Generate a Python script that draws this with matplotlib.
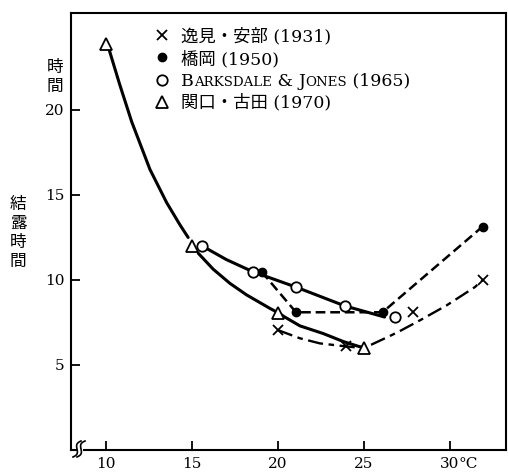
import numpy as np
import matplotlib.pyplot as plt
from matplotlib.patches import Rectangle

plt.rcParams['font.family'] = ['DejaVu Serif', 'Noto Sans CJK JP']
plt.rcParams['lines.scale_dashes'] = False

# 関口・古田 (1970)  triangles and the hand drawn curve through them
tri_x = [10, 15, 20, 25]
tri_y = [23.9, 12.0, 8.08, 5.98]
tri_top_x = [10.05, 10.2, 10.8, 11.5, 12.56, 13.53, 14.3, 14.78]
tri_top_y = [23.9, 23.5, 21.5, 19.3, 16.5, 14.55, 13.25, 12.5]
tri_low_x = [15.37, 16.24, 17.21, 18.18, 18.95, 19.53, 20.0, 20.4, 21.28, 22.63, 23.8, 24.67, 25.0]
tri_low_y = [11.57, 10.63, 9.8, 9.12, 8.67, 8.33, 8.08, 7.82, 7.3, 6.85, 6.38, 6.1, 6.02]

# 逸見・安部 (1931)
cross_x = [20.0, 23.93, 27.87, 31.9]
cross_y = [7.05, 6.1, 8.14, 10.0]
cross_curve_x = [20.0, 21.28, 22.44, 23.9, 24.6, 25.0, 25.44, 26.5, 27.1, 28.3, 29.8, 31.45, 31.9]
cross_curve_y = [7.05, 6.57, 6.27, 6.1, 6.03, 6.05, 6.2, 6.7, 7.0, 7.65, 8.5, 9.58, 10.0]

# 橋岡 (1950)
dot_x = [19.05, 21.05, 26.08, 31.9]
dot_y = [10.49, 8.1, 8.1, 13.14]

# Barksdale & Jones (1965)
circ_x = [15.56, 18.53, 21.08, 23.9, 26.8]
circ_y = [12.02, 10.49, 9.57, 8.47, 7.8]
circ_line_x = [15.56, 17.0, 18.53, 21.08, 23.9, 26.2]
circ_line_y = [12.02, 11.2, 10.49, 9.57, 8.47, 7.82]

xticks = [10, 15, 20, 25, 30]
yticks = [5, 10, 15, 20]

fig = plt.figure(figsize=(5.08, 4.73), dpi=100)
ax = fig.add_axes([71 / 508, 23 / 473, 435 / 508, 437 / 473])

k = 'black'
tri_style = dict(marker='^', ms=8.5, mfc='white', mec=k, mew=1.3, ls='none', zorder=6)
circ_style = dict(marker='o', ms=7.5, mfc='white', mec=k, mew=1.3, ls='none', zorder=6)
dot_style = dict(marker='o', ms=6, mfc=k, mec=k, ls='none', zorder=6)
cross_style = dict(marker='x', ms=7, mec=k, mew=1.3, ls='none', zorder=6)

ax.plot(tri_top_x, tri_top_y, color=k, lw=2.2, solid_capstyle='round')
ax.plot(tri_low_x, tri_low_y, color=k, lw=2.2, solid_capstyle='round')
ax.plot(cross_curve_x, cross_curve_y, color=k, lw=1.7, dashes=(11, 4, 4, 4))
ax.plot(dot_x, dot_y, color=k, lw=1.8, dashes=(7, 3.5))
ax.plot(circ_line_x, circ_line_y, color=k, lw=2.2, solid_capstyle='round')

ax.plot(tri_x, tri_y, **tri_style)
ax.plot(circ_x, circ_y, **circ_style)
ax.plot(dot_x, dot_y, **dot_style)
ax.plot(cross_x, cross_y, **cross_style)

ax.set_xlim(7.97, 33.26)
ax.set_ylim(0, 25.7)
ax.set_xticks(xticks)
ax.set_xticklabels([str(t) for t in xticks])
ax.set_yticks(yticks)
ax.set_yticklabels([str(t) for t in yticks])
ax.tick_params(direction='in', length=6.5, width=1.3, labelsize=11, colors=k)
ax.tick_params(axis='x', pad=5)
ax.tick_params(axis='y', pad=4.5)
for s in ax.spines.values():
    s.set_linewidth(1.5)

ax.annotate('°C', xy=(30, 0), xycoords=('data', 'axes fraction'),
            xytext=(6.5, -5), textcoords='offset points',
            ha='left', va='top', fontsize=11)

# broken axis mark at the lower left
def px(x, y):
    return (x - 71) / 435, (450 - y) / 437

ax.add_patch(Rectangle(px(76.5, 453), 6.5 / 435, 6 / 437, transform=ax.transAxes,
                       facecolor='white', edgecolor='none', clip_on=False, zorder=5))
t = np.linspace(0, 1, 40)
for dx in (0, 4):
    x0, y0 = 73 + dx, 457
    x1, y1 = 81 + dx, 441
    ux, uy = x1 - x0, y1 - y0
    n = np.hypot(ux, uy)
    wx = x0 + t * ux + 2.2 * np.sin(2 * np.pi * t) * (-uy / n)
    wy = y0 + t * uy + 2.2 * np.sin(2 * np.pi * t) * (ux / n)
    fx, fy = px(wx, wy)
    ax.plot(fx, fy, color=k, lw=1.2, transform=ax.transAxes, clip_on=False, zorder=6)

# legend drawn by hand
mx = px(161.7, 0)[0]
tx = px(181, 0)[0]
rows = [(35, 41.7), (56.7, 64), (80, 85.7), (101.7, 107.3)]
styles = [cross_style, dot_style, circ_style, tri_style]
for (my, by), st in zip(rows, styles):
    st = dict(st)
    if st['marker'] == '^':
        st['ms'] = 8
    ax.plot([mx], [px(0, my)[1]], transform=ax.transAxes, clip_on=False, **st)

fs = 12.5
sc = 9.6
ax.text(tx, px(0, rows[0][1])[1], '逸見・安部 (1931)', transform=ax.transAxes,
        va='baseline', ha='left', fontsize=fs)
ax.text(tx, px(0, rows[1][1])[1], '橋岡 (1950)', transform=ax.transAxes,
        va='baseline', ha='left', fontsize=fs)
ax.text(tx, px(0, rows[3][1])[1], '関口・古田 (1970)', transform=ax.transAxes,
        va='baseline', ha='left', fontsize=fs)

by = px(0, rows[2][1])[1]
pieces = [('B', fs), ('ARKSDALE', sc), (' & ', fs), ('J', fs), ('ONES', sc), (' (1965)', fs)]
prev = ax.text(tx, by, pieces[0][0], transform=ax.transAxes, va='baseline',
               ha='left', fontsize=pieces[0][1])
for s, size in pieces[1:]:
    prev = ax.annotate(s, xy=(1, by), xycoords=(prev, 'axes fraction'),
                       va='baseline', ha='left', fontsize=size)

# y axis title, set vertically in two parts
fig.text(55 / 508, 1 - 77 / 473, '時\n間', ha='center', va='center',
         fontsize=12, linespacing=1.15, family='Noto Sans CJK JP')
fig.text(18 / 508, 1 - 233 / 473, '結\n露\n時\n間', ha='center', va='center',
         fontsize=12, linespacing=1.15, family='Noto Sans CJK JP')

fig.savefig('out.png', dpi=100)
